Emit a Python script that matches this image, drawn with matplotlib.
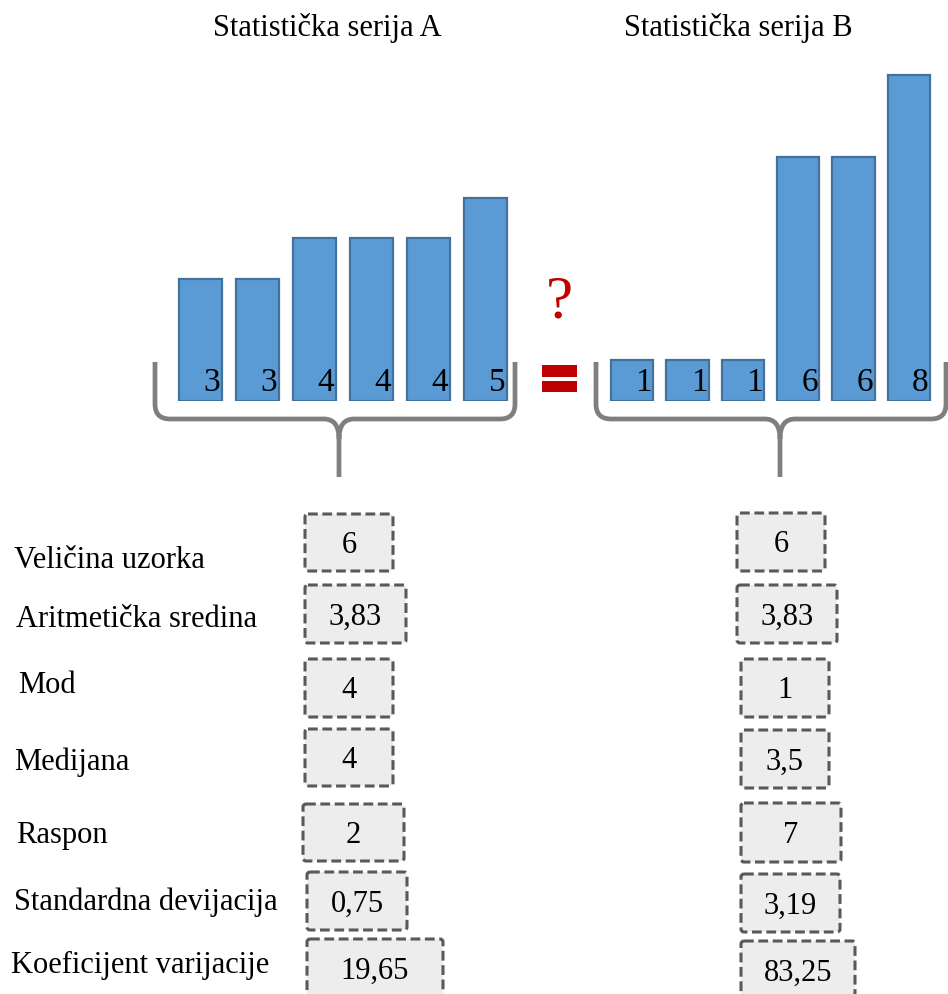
import matplotlib
matplotlib.use("Agg")
import matplotlib.pyplot as plt
from matplotlib.patches import Rectangle, FancyBboxPatch, PathPatch
from matplotlib.path import Path

# ---- data ----
series_a = [3, 3, 4, 4, 4, 5]
series_b = [1, 1, 1, 6, 6, 8]
title_a = "Statistička serija A"
title_b = "Statistička serija B"
stat_names = ["Veličina uzorka", "Aritmetička sredina", "Mod", "Medijana",
              "Raspon", "Standardna devijacija", "Koeficijent varijacije"]
stats_a = ["6", "3,83", "4", "4", "2", "0,75", "19,65"]
stats_b = ["6", "3,83", "1", "3,5", "7", "3,19", "83,25"]

W, H = 948, 994
FONT = "Liberation Serif"
BAR_FACE = "#5B9BD5"
BAR_EDGE = "#41719C"
BRACE = "#7F7F7F"
RED = "#C00000"

fig = plt.figure(figsize=(W / 100, H / 100), dpi=100)

# overlay in pixel coordinates (y downwards)
ov = fig.add_axes([0, 0, 1, 1])
ov.set_xlim(0, W)
ov.set_ylim(H, 0)
ov.axis("off")


def px_axes(left, right, top, bottom):
    return fig.add_axes([left / W, 1 - bottom / H, (right - left) / W, (bottom - top) / H])


UNIT = 40.7          # pixels per unit of value
BASE = 401           # pixel row of value 0
YMAX = 8.6


def bar_panel(values, center0, step, width_px):
    left = center0 - step / 2
    right = left + step * len(values)
    ax = px_axes(left, right, BASE - YMAX * UNIT, BASE)
    ax.set_xlim(-0.5, len(values) - 0.5)
    ax.set_ylim(0, YMAX)
    ax.axis("off")
    w = width_px / step
    ax.bar(range(len(values)), values, width=w, color=BAR_FACE,
           edgecolor=BAR_EDGE, linewidth=1.6)
    for i, v in enumerate(values):
        ax.annotate(str(v), xy=(i + w / 2, 0), xytext=(-1.0, 2),
                    textcoords="offset points", ha="right", va="bottom",
                    fontsize=24, family=FONT, color="black",
                    annotation_clip=False)
    return ax


bar_panel(series_a, 200.5, 57.0, 42.5)
bar_panel(series_b, 632.0, 55.4, 42.5)

# titles
ov.text(327, 36, title_a, ha="center", va="baseline", fontsize=22, family=FONT)
ov.text(738, 36, title_b, ha="center", va="baseline", fontsize=22, family=FONT)


def brace(x0, x1, xc, ytop=362, yh=419, ystem=477, r=15):
    verts = [(x0, ytop), (x0, yh - r), (x0, yh), (x0 + r, yh),
             (xc - r, yh), (xc, yh), (xc, yh + 20), (xc, ystem)]
    codes = [Path.MOVETO, Path.LINETO, Path.CURVE3, Path.CURVE3,
             Path.LINETO, Path.CURVE3, Path.CURVE3, Path.LINETO]
    verts += [(x1, ytop), (x1, yh - r), (x1, yh), (x1 - r, yh),
              (xc + r, yh), (xc, yh), (xc, yh + 20)]
    codes += [Path.MOVETO, Path.LINETO, Path.CURVE3, Path.CURVE3,
              Path.LINETO, Path.CURVE3, Path.CURVE3]
    ov.add_patch(PathPatch(Path(verts, codes), facecolor="none",
                           edgecolor=BRACE, linewidth=3.4, capstyle="butt"))


brace(155, 515, 339)
brace(596, 946, 780)

# equality sign with question mark
ov.add_patch(Rectangle((542, 365), 35, 12, facecolor=RED, edgecolor="none"))
ov.add_patch(Rectangle((542, 381), 35, 11, facecolor=RED, edgecolor="none"))
ov.text(559, 317, "?", ha="center", va="baseline", fontsize=44, family=FONT, color=RED)

# statistics table
label_pos = [(14, 568), (16, 627), (18, 693), (14, 770), (16, 843), (14, 910), (11, 973)]
boxes_a = [(305, 393, 514, 571), (305, 406, 585, 643), (305, 393, 659, 717),
           (305, 393, 729, 786), (303, 404, 804, 861), (307, 407, 872, 930),
           (307, 443, 939, 997)]
boxes_b = [(737, 825, 513, 571), (737, 837, 585, 643), (741, 829, 659, 717),
           (741, 829, 730, 788), (741, 841, 803, 862), (741, 840, 874, 932),
           (741, 855, 941, 999)]


def stat_box(x0, x1, y0, y1, txt):
    ov.add_patch(FancyBboxPatch((x0, y0), x1 - x0, y1 - y0,
                                boxstyle="round,pad=0,rounding_size=3",
                                facecolor="#EDEDED", edgecolor="#595959",
                                linewidth=2.2, linestyle=(0, (3.2, 1.5)),
                                clip_on=False))
    yb = (y0 + y1) / 2 + 10.5 if y1 < 990 else y0 + 40
    ov.text((x0 + x1) / 2, yb, txt, ha="center", va="baseline",
            fontsize=22, family=FONT)


for (lx, ly), name in zip(label_pos, stat_names):
    ov.text(lx, ly, name, ha="left", va="baseline", fontsize=22, family=FONT)
for b, t in zip(boxes_a, stats_a):
    stat_box(*b, t)
for b, t in zip(boxes_b, stats_b):
    stat_box(*b, t)

fig.savefig("out.png", dpi=100)
